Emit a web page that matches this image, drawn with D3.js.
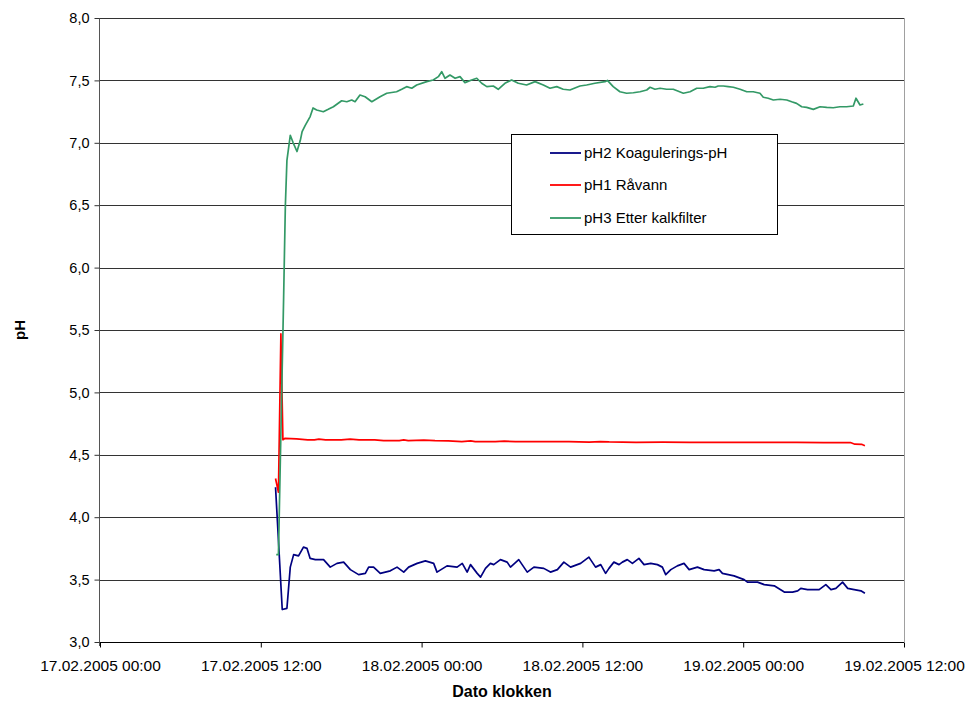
<!DOCTYPE html>
<html><head><meta charset="utf-8">
<script src="https://cdn.jsdelivr.net/npm/d3@7"></script>
<style>
html,body{margin:0;padding:0;background:#fff;}
text{font-family:"Liberation Sans",Arial,sans-serif;}
</style></head>
<body>
<svg id="chart" width="971" height="702"></svg>
<script>
// ---------- DATA ----------
const xTickLabels = ["17.02.2005 00:00","17.02.2005 12:00","18.02.2005 00:00","18.02.2005 12:00","19.02.2005 00:00","19.02.2005 12:00"];
const yTicks = [3.0,3.5,4.0,4.5,5.0,5.5,6.0,6.5,7.0,7.5,8.0];
const seriesNames = ["pH2 Koagulerings-pH","pH1 Råvann","pH3 Etter kalkfilter"];
const seriesColors = ["#000080","#FF0000","#339966"];

const pH2 = [
["17.02 13:06",4.24],["17.02 13:36",3.26],["17.02 13:57",3.27],["17.02 14:12",3.60],["17.02 14:27",3.70],
["17.02 14:49",3.69],["17.02 15:11",3.76],["17.02 15:27",3.75],["17.02 15:41",3.67],["17.02 16:04",3.66],
["17.02 16:41",3.66],["17.02 17:11",3.60],["17.02 17:41",3.63],["17.02 18:11",3.64],["17.02 18:41",3.58],
["17.02 19:18",3.54],["17.02 19:48",3.55],["17.02 20:03",3.60],["17.02 20:25",3.60],["17.02 20:55",3.55],
["17.02 21:40",3.57],["17.02 22:10",3.60],["17.02 22:40",3.56],["17.02 23:02",3.60],["17.02 23:40",3.63],
["18.02 00:17",3.65],["18.02 00:54",3.63],["18.02 01:09",3.56],["18.02 01:54",3.61],["18.02 02:39",3.60],
["18.02 03:02",3.63],["18.02 03:24",3.56],["18.02 03:39",3.62],["18.02 04:09",3.55],["18.02 04:24",3.52],
["18.02 04:46",3.59],["18.02 05:08",3.63],["18.02 05:23",3.62],["18.02 05:53",3.66],["18.02 06:23",3.64],
["18.02 06:38",3.60],["18.02 07:15",3.66],["18.02 07:53",3.56],["18.02 08:23",3.60],["18.02 09:07",3.59],
["18.02 09:37",3.56],["18.02 10:08",3.58],["18.02 10:37",3.64],["18.02 11:07",3.60],["18.02 11:52",3.63],
["18.02 12:29",3.68],["18.02 12:59",3.60],["18.02 13:22",3.62],["18.02 13:44",3.55],["18.02 13:59",3.59],
["18.02 14:21",3.64],["18.02 14:44",3.62],["18.02 14:59",3.64],["18.02 15:21",3.66],["18.02 15:44",3.63],
["18.02 16:13",3.67],["18.02 16:36",3.62],["18.02 17:06",3.63],["18.02 17:36",3.62],["18.02 17:58",3.60],
["18.02 18:13",3.54],["18.02 18:36",3.58],["18.02 19:05",3.61],["18.02 19:35",3.63],["18.02 19:58",3.58],
["18.02 20:35",3.60],["18.02 21:05",3.58],["18.02 21:50",3.57],["18.02 22:12",3.58],["18.02 22:27",3.55],
["18.02 23:19",3.53],["19.02 00:04",3.50],["19.02 00:19",3.48],["19.02 01:04",3.48],["19.02 01:34",3.46],
["19.02 02:19",3.45],["19.02 03:04",3.40],["19.02 03:41",3.40],["19.02 04:04",3.41],["19.02 04:18",3.43],
["19.02 04:48",3.42],["19.02 05:40",3.42],["19.02 06:10",3.46],["19.02 06:33",3.42],["19.02 06:55",3.43],
["19.02 07:25",3.48],["19.02 07:48",3.43],["19.02 08:17",3.42],["19.02 08:47",3.41],["19.02 09:05",3.39]
];

const pH1 = [
["17.02 13:06",4.31],["17.02 13:19",4.20],["17.02 13:30",5.47],["17.02 13:39",4.62],["17.02 13:49",4.632],
["17.02 14:40",4.628],["17.02 15:30",4.62],["17.02 16:00",4.62],["17.02 16:20",4.626],["17.02 16:50",4.62],
["17.02 18:00",4.62],["17.02 18:40",4.625],["17.02 19:20",4.62],["17.02 20:30",4.62],["17.02 21:10",4.614],
["17.02 22:20",4.614],["17.02 22:40",4.619],["17.02 23:00",4.614],["18.02 00:10",4.618],["18.02 01:00",4.614],
["18.02 02:00",4.612],["18.02 03:00",4.606],["18.02 03:40",4.611],["18.02 04:00",4.606],["18.02 05:30",4.605],
["18.02 06:10",4.609],["18.02 07:00",4.605],["18.02 09:00",4.606],["18.02 11:00",4.605],["18.02 12:30",4.602],
["18.02 13:20",4.606],["18.02 14:00",4.603],["18.02 16:00",4.60],["18.02 18:00",4.601],["18.02 20:00",4.60],
["18.02 22:00",4.60],["19.02 00:00",4.60],["19.02 02:00",4.60],["19.02 04:00",4.60],["19.02 06:00",4.598],
["19.02 08:00",4.598],["19.02 08:20",4.585],["19.02 08:50",4.584],["19.02 09:05",4.573]
];

const pH3 = [
["17.02 13:09",3.70],["17.02 13:19",3.70],["17.02 13:42",5.74],["17.02 13:47",6.22],["17.02 13:50",6.50],
["17.02 13:57",6.86],["17.02 14:12",7.06],["17.02 14:25",7.00],["17.02 14:42",6.93],["17.02 14:57",7.02],
["17.02 15:05",7.09],["17.02 15:19",7.14],["17.02 15:41",7.21],["17.02 15:54",7.279],["17.02 16:10",7.263],
["17.02 16:40",7.249],["17.02 17:02",7.268],["17.02 17:25",7.289],["17.02 18:02",7.337],["17.02 18:25",7.329],
["17.02 18:47",7.343],["17.02 19:02",7.329],["17.02 19:24",7.383],["17.02 19:47",7.369],["17.02 20:17",7.329],
["17.02 20:54",7.369],["17.02 21:24",7.397],["17.02 22:08",7.409],["17.02 22:31",7.429],["17.02 22:53",7.450],
["17.02 23:16",7.437],["17.02 23:38",7.463],["18.02 00:23",7.490],["18.02 00:52",7.503],["18.02 01:15",7.530],
["18.02 01:30",7.570],["18.02 01:45",7.517],["18.02 02:07",7.543],["18.02 02:30",7.517],["18.02 02:52",7.530],
["18.02 03:14",7.482],["18.02 03:44",7.503],["18.02 04:07",7.517],["18.02 04:29",7.477],["18.02 04:52",7.450],
["18.02 05:21",7.455],["18.02 05:43",7.429],["18.02 06:13",7.477],["18.02 06:43",7.503],["18.02 07:13",7.477],
["18.02 07:50",7.463],["18.02 08:28",7.490],["18.02 09:05",7.463],["18.02 09:35",7.437],["18.02 10:05",7.450],
["18.02 10:34",7.429],["18.02 11:04",7.423],["18.02 11:49",7.455],["18.02 12:19",7.463],["18.02 12:56",7.477],
["18.02 13:41",7.490],["18.02 13:52",7.500],["18.02 14:18",7.450],["18.02 14:48",7.409],["18.02 15:18",7.397],
["18.02 15:48",7.401],["18.02 16:18",7.409],["18.02 16:48",7.423],["18.02 17:03",7.445],["18.02 17:25",7.429],
["18.02 17:48",7.437],["18.02 18:17",7.429],["18.02 18:47",7.429],["18.02 19:32",7.397],["18.02 20:02",7.409],
["18.02 20:32",7.437],["18.02 21:01",7.437],["18.02 21:31",7.450],["18.02 21:54",7.445],["18.02 22:08",7.455],
["18.02 22:31",7.455],["18.02 22:53",7.450],["18.02 23:16",7.445],["18.02 23:46",7.429],["19.02 00:16",7.409],
["19.02 00:45",7.409],["19.02 01:15",7.397],["19.02 01:30",7.365],["19.02 01:52",7.357],["19.02 02:15",7.343],
["19.02 02:45",7.349],["19.02 03:15",7.343],["19.02 03:37",7.329],["19.02 03:59",7.316],["19.02 04:22",7.289],
["19.02 04:44",7.284],["19.02 05:14",7.268],["19.02 05:44",7.289],["19.02 06:14",7.284],["19.02 06:43",7.281],
["19.02 07:13",7.289],["19.02 07:43",7.289],["19.02 08:13",7.295],["19.02 08:25",7.357],["19.02 08:43",7.303],
["19.02 08:58",7.311]
];

// ---------- CHART ----------
const svg = d3.select("#chart");
const parseFull = d3.timeParse("%d.%m.%Y %H:%M");
const parse = s => parseFull(s.slice(0,5) + ".2005" + s.slice(5));
const plot = {left:100, right:904, top:18, bottom:642};

const x = d3.scaleTime()
  .domain([parseFull(xTickLabels[0]), parseFull(xTickLabels[xTickLabels.length-1])])
  .range([plot.left, plot.right]);
const y = d3.scaleLinear().domain([yTicks[0], yTicks[yTicks.length-1]]).range([plot.bottom, plot.top]);

const locale = d3.formatLocale({decimal:",", thousands:" ", grouping:[3], currency:["",""]});
const fmtY = locale.format(".1f");

// plot area border (right side grey)
svg.append("line").attr("x1",plot.right+0.5).attr("x2",plot.right+0.5)
  .attr("y1",plot.top).attr("y2",plot.bottom).attr("stroke","#a0a0a0").attr("stroke-width",1);

// gridlines
svg.append("g").selectAll("line").data(yTicks.filter(d=>d>3)).join("line")
  .attr("x1",plot.left).attr("x2",plot.right)
  .attr("y1",d=>Math.round(y(d))+0.5).attr("y2",d=>Math.round(y(d))+0.5)
  .attr("stroke","#333").attr("stroke-width",1);

// y axis
const yAxis = d3.axisLeft(y).tickValues(yTicks).tickFormat(fmtY).tickSize(5).tickPadding(5);
const gy = svg.append("g").attr("transform",`translate(${plot.left-0.5},0)`).call(yAxis);
gy.select(".domain").attr("stroke","#555").attr("d",`M0,${plot.top}V${plot.bottom+4}`);
gy.selectAll(".tick line").attr("stroke","#333");
gy.selectAll(".tick text").attr("font-size","14.5px").attr("fill","#000").attr("font-family","Liberation Sans, Arial");

// x axis
const xAxis = d3.axisBottom(x).tickValues(xTickLabels.map(parseFull)).tickFormat(d3.timeFormat("%d.%m.%Y %H:%M")).tickSize(5).tickPadding(12);
const gx = svg.append("g").attr("transform",`translate(0,${plot.bottom+0.5})`).call(xAxis);
gx.select(".domain").attr("stroke","#000").attr("d",`M${plot.left},0H${plot.right}`);
gx.selectAll(".tick line").attr("stroke","#000");
gx.selectAll(".tick text").attr("font-size","15.5px").attr("fill","#000").attr("font-family","Liberation Sans, Arial");

// lines
const line = d3.line().x(d=>x(parse(d[0]))).y(d=>y(d[1]));
const allSeries = [pH2, pH1, pH3];
[1,0,2].forEach(i=>{
  svg.append("path").datum(allSeries[i]).attr("d",line)
    .attr("fill","none").attr("stroke",seriesColors[i]).attr("stroke-width",1.7)
    .attr("stroke-linejoin","round");
});

// axis titles
svg.append("text").attr("x",(plot.left+plot.right)/2).attr("y",697)
  .attr("text-anchor","middle").attr("font-size","16px").attr("font-weight","bold").text("Dato klokken");
svg.append("text").attr("transform","translate(25,330) rotate(-90)")
  .attr("text-anchor","middle").attr("font-size","15px").attr("font-weight","bold").text("pH");

// legend
const lg = svg.append("g");
lg.append("rect").attr("x",511.5).attr("y",134.5).attr("width",266).attr("height",100)
  .attr("fill","#fff").attr("stroke","#000").attr("stroke-width",1);
const ly = [153,185,218];
seriesNames.forEach((n,i)=>{
  lg.append("line").attr("x1",550).attr("x2",581).attr("y1",ly[i]).attr("y2",ly[i])
    .attr("stroke",seriesColors[i]).attr("stroke-width",1.8);
  lg.append("text").attr("x",584).attr("y",ly[i]).attr("dy","0.36em")
    .attr("font-size","15px").text(n);
});
</script>
</body></html>
